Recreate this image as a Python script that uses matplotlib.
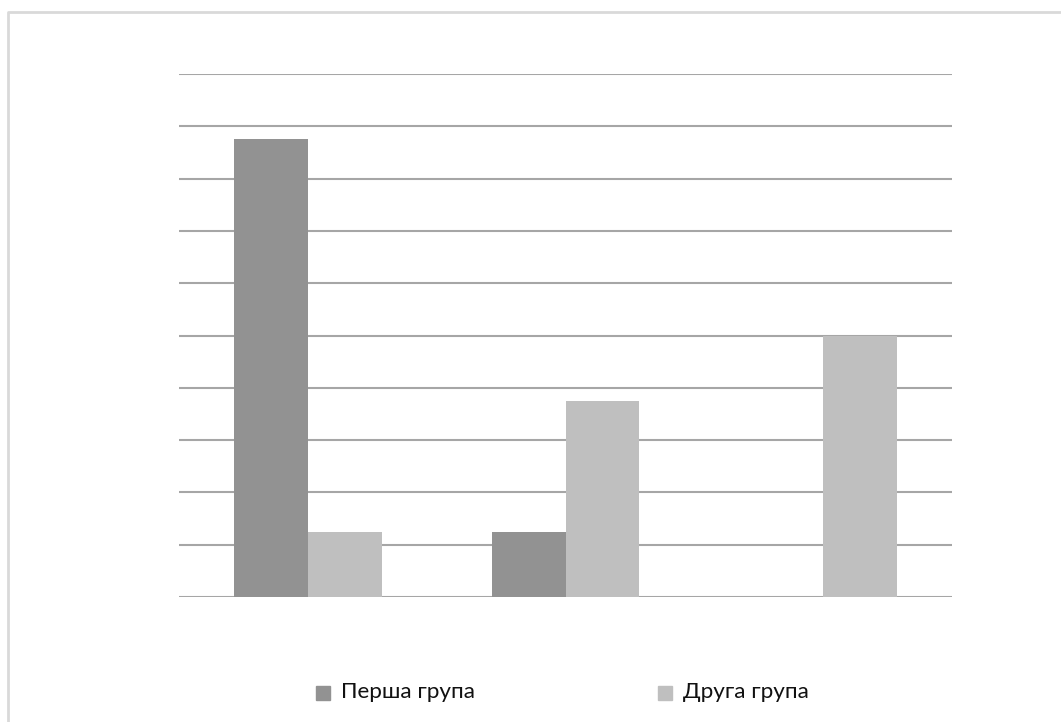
import matplotlib.pyplot as plt
import numpy as np
from matplotlib.patches import Rectangle
from matplotlib.lines import Line2D

# Share of each group per category, %
categories = ['A', 'B', 'C']
group1 = [87.5, 12.5, 0.0]
group2 = [12.5, 37.5, 50.0]
series_names = ['Перша група', 'Друга група']
colors = ['#929292', '#bfbfbf']

W, H = 1061, 722
fig = plt.figure(figsize=(W / 100, H / 100), dpi=100)
plt.rcParams['font.family'] = ['Lato', 'DejaVu Sans']

# light frame (left and top edges of the chart area)
fig.lines.append(Line2D([8 / W, 8 / W, 1.0], [0, 1 - 12 / H, 1 - 12 / H],
                        transform=fig.transFigure, color='#d9d9d9', lw=2))

ax = fig.add_axes([179 / W, 1 - 597 / H, (952 - 179) / W, (597 - 74) / H])
x = np.arange(len(categories))
w = 0.287
ax.bar(x - w / 2, group1, w, color=colors[0], zorder=2)
ax.bar(x + w / 2, group2, w, color=colors[1], zorder=2)

ax.set_xlim(-0.5, len(categories) - 0.5)
ax.set_ylim(0, 100)
ax.set_yticks(np.arange(0, 101, 10))
ax.yaxis.grid(True, color='#a6a6a6', lw=1.5)
ax.set_axisbelow(True)
ax.tick_params(left=False, bottom=False, labelleft=False, labelbottom=False)
for s in ax.spines.values():
    s.set_visible(False)

# legend along the bottom
for i, (name, c) in enumerate(zip(series_names, colors)):
    x0 = [316, 658][i]
    fig.patches.append(Rectangle((x0 / W, 1 - 700 / H), 14 / W, 14 / H,
                                 transform=fig.transFigure, color=c))
    fig.text((x0 + 25) / W, 1 - 698 / H, name, fontsize=16.2, va='baseline',
             ha='left', color='#111111')

fig.savefig('out.png', dpi=100)
